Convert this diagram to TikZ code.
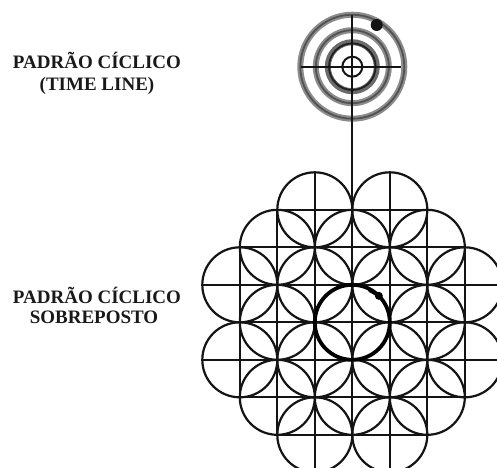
\documentclass[tikz,border=0pt]{standalone}
\usepackage{fontspec}
\setmainfont{Liberation Serif}
\begin{document}
\begin{tikzpicture}[x=1pt,y=-1pt,
  labeltext/.style={font=\fontsize{19}{21}\selectfont\bfseries, anchor=base, inner sep=0pt, text=black!90},
  ringband/.style={draw=black!45, line width=6pt},
  ringcore/.style={draw=black!68, line width=1.8pt},
  gridline/.style={draw=black!92, line width=2.2pt},
  heavyring/.style={draw=black, line width=3.8pt}]
\useasboundingbox (0,0) rectangle (497,467);
\clip (0,0) rectangle (497,467);
% labels
\node[labeltext] (l1a) at (97,68.3) {PADRÃO CÍCLICO};
\node[labeltext] (l1b) at (97,90) {(TIME LINE)};
\node[labeltext] (l2a) at (97,303.3) {PADRÃO CÍCLICO};
\node[labeltext] (l2b) at (94,323.3) {SOBREPOSTO};
% target (time line)
\coordinate (tc) at (352.3,66.7);
\draw[ringband] (tc) circle [radius=52];
\draw[ringcore] (tc) circle [radius=52];
\draw[ringband] (tc) circle [radius=36.5];
\draw[ringcore] (tc) circle [radius=36.5];
\draw[ringband, draw=black!58] (tc) circle [radius=24.5];
\draw[ringcore, draw=black!88] (tc) circle [radius=23.3];
\draw[draw=black!92, line width=2pt] (tc) circle [radius=10];
\coordinate (tl) at (301.3,66.7);
\coordinate (tr) at (401.3,66.7);
\coordinate (tt) at (352.3,14.7);
\draw[gridline] (tl) -- (tr);
\coordinate (tdot) at (376.7,25);
\fill[black!92] (tdot) circle [radius=6];
% superimposed pattern
\def\s{37.5}
\def\cx{352.3}
\def\cy{322.3}
\coordinate (g0) at (\cx,{\cy-3*\s});
\draw[gridline] (tt) -- (g0);
\foreach \i/\j in {2/0,4/0,1/1,3/1,5/1,0/2,2/2,4/2,6/2,1/3,3/3,5/3,0/4,2/4,4/4,6/4,1/5,3/5,5/5,2/6,4/6}{
  \pgfmathsetmacro{\X}{\cx+(\i-3)*\s}
  \pgfmathsetmacro{\Y}{\cy+(\j-3)*\s}
  \draw[gridline] (\X,\Y) circle [radius=\s];
  \draw[gridline] ({\X-\s},\Y) -- ({\X+\s},\Y);
  \draw[gridline] (\X,{\Y-\s}) -- (\X,{\Y+\s});
}
\coordinate (cc) at (\cx,\cy);
\draw[heavyring] (cc) circle [radius=\s];
\coordinate (dot) at (378.8,295.8);
\coordinate (dtail) at (369.5,290.5);
\draw[black, line width=3pt, line cap=round] (dtail) -- (dot);
\fill[black] (dot) circle [radius=4];
\end{tikzpicture}
\end{document}
